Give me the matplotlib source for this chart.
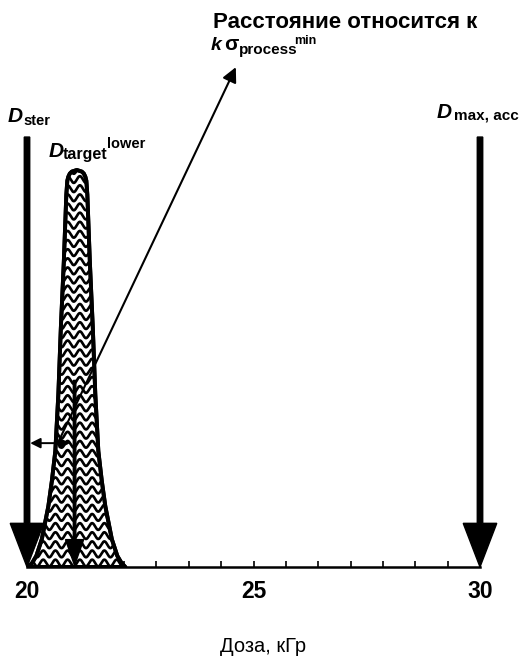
import numpy as np
import matplotlib
matplotlib.use("Agg")
import matplotlib.pyplot as plt
from matplotlib.patches import Polygon

plt.rcParams['font.family'] = ['Liberation Sans', 'DejaVu Sans']

# ---- data ----
dose_min, dose_max = 20, 30
tick_count = 15                      # tick marks from 20 to 30 (14 intervals)
major_labels = [20, 25, 30]
xlabel_text = "Доза, кГр"

d_ster = 20.0                        # sterilisation dose arrow
d_max_acc = 30.0                     # maximum acceptable dose arrow
peak_center = 21.1                   # centre of dose distribution
d_target_lower = 21.05               # inner arrow position

# profile of the distribution (relative height, half width in kGy)
profile_height = [1.0, 0.996, 0.991, 0.983, 0.973, 0.938, 0.77, 0.602,
                  0.435, 0.292, 0.216, 0.153, 0.07, 0.028, 0.011, 0.0]
profile_halfwidth = [0.0, 0.110, 0.155, 0.188, 0.210, 0.232, 0.287, 0.353,
                     0.408, 0.475, 0.552, 0.629, 0.773, 0.894, 0.982, 1.071]

# arrows: start and end points (dose, relative height)
dist_arrow = [(20.07, 0.312), (20.95, 0.312)]
pointer_arrow = [(20.68, 0.312), (24.61, 1.259)]
arrow_top = 1.083
inner_arrow_top = 0.47

W, H = 526, 659
fig = plt.figure(figsize=(W / 100, H / 100), dpi=100)
ax = fig.add_axes([27 / W, 1 - 567 / H, 453 / W, 567 / H])
ax.set_xlim(dose_min, dose_max)
ax.set_ylim(0, 567 / 397)

for s in ['left', 'right', 'top']:
    ax.spines[s].set_visible(False)
ax.spines['bottom'].set_linewidth(1.8)
ax.set_yticks([])
ticks = np.linspace(dose_min, dose_max, tick_count)
ax.set_xticks(ticks)
ax.set_xticklabels([str(int(round(t))) if any(abs(t - m) < 1e-6 for m in major_labels) else ''
                    for t in ticks], fontsize=16.5, fontweight='bold')
ax.tick_params(axis='x', direction='in', length=4, width=1.2, pad=9)

# distribution shape
xs_right = [peak_center + w for w in profile_halfwidth]
xs_left = [peak_center - w for w in profile_halfwidth]
pts = list(zip(xs_left[::-1], profile_height[::-1])) + list(zip(xs_right[1:], profile_height[1:]))
poly = Polygon(pts, closed=True, facecolor='white', edgecolor='black', lw=2.8, joinstyle='round', zorder=3)
ax.add_patch(poly)

# wavy fill pattern clipped to the shape
xx = np.linspace(19.8, 22.4, 800)
lam = 0.27
amp = 0.0085
for y0 in np.arange(0.01, 1.02, 0.023):
    yy = y0 + amp * np.sin(2 * np.pi * (xx - peak_center) / lam)
    ln, = ax.plot(xx, yy, color='black', lw=1.9, zorder=4)
    ln.set_clip_path(poly)
ax.add_patch(Polygon(pts, closed=True, facecolor='none', edgecolor='black', lw=2.8,
                     joinstyle='round', zorder=5))

# big vertical arrows
for xa in (d_ster, d_max_acc):
    ax.arrow(xa, arrow_top, 0, -arrow_top, width=0.12, head_width=0.74, head_length=0.11,
             length_includes_head=True, color='black', zorder=6, clip_on=False)

# inner arrow
ax.arrow(d_target_lower, inner_arrow_top, 0, -inner_arrow_top + 0.004, width=0.055,
         head_width=0.40, head_length=0.065, length_includes_head=True,
         color='black', zorder=6)

# distance arrow
ax.annotate('', xy=dist_arrow[0], xytext=dist_arrow[1],
            arrowprops=dict(arrowstyle='<|-|>', lw=1.4, color='black', mutation_scale=15,
                            shrinkA=0, shrinkB=0), zorder=7)
# pointer arrow
ax.annotate('', xy=pointer_arrow[1], xytext=pointer_arrow[0],
            arrowprops=dict(arrowstyle='-|>', lw=1.5, color='black', mutation_scale=22,
                            shrinkA=0, shrinkB=0), zorder=7, annotation_clip=False)


def P(px, py):
    return px / W, 1 - py / H


def T(px, py, s, size, bold=True, italic=False, **kw):
    fig.text(*P(px, py), s, fontsize=size, fontweight='bold' if bold else 'normal',
             fontstyle='italic' if italic else 'normal', va='baseline', ha='left', **kw)


T(8, 122, 'D', 15, italic=True)
T(23, 125, 'ster', 10.5)
T(49, 157, 'D', 15, italic=True)
T(63, 159, 'target', 11.5)
T(107, 148, 'lower', 10.5)
T(437, 118, 'D', 15, italic=True)
T(454, 119, 'max, acc', 11)
T(213, 28, 'Расстояние относится к', 16)
T(211, 50, 'k', 14, italic=True)
T(224, 50, 'σ', 15)
T(239, 54, 'process', 11)
T(294, 44, 'min', 9)

fig.text(*P(263, 647), xlabel_text, fontsize=14.5, ha='center', va='center')

fig.savefig('out.png', dpi=100)
